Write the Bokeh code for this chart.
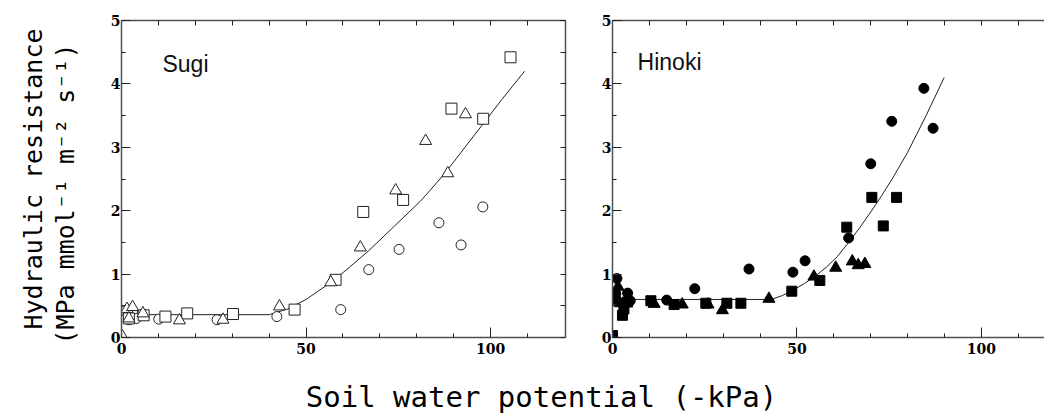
from bokeh.plotting import figure
from bokeh.models import LinearAxis, FixedTicker, Label, Range1d
from bokeh.layouts import column, row
from bokeh.embed import file_html
from bokeh.resources import INLINE

# ---- Sugi (open symbols) ----
sugi_sq_x = [105.4, 89.4, 98.0, 65.5, 76.3, 58.0, 46.9, 30.2, 17.8, 11.9, 6.0, 2.0]
sugi_sq_y = [4.42, 3.61, 3.45, 1.98, 2.17, 0.91, 0.44, 0.37, 0.38, 0.33, 0.35, 0.30]
sugi_tri_x = [93.2, 82.4, 88.4, 74.3, 64.7, 56.7, 42.8, 27.5, 15.7, 5.8, 0.2, 1.5, 3.0, 2.0]
sugi_tri_y = [3.52, 3.10, 2.59, 2.32, 1.42, 0.87, 0.49, 0.28, 0.27, 0.38, 0.02, 0.45, 0.48, 0.30]
sugi_cir_x = [97.9, 86.0, 92.0, 75.2, 67.0, 59.4, 42.1, 25.9, 10.1, 1.0, 3.0, 4.0, 2.0]
sugi_cir_y = [2.06, 1.81, 1.46, 1.39, 1.07, 0.44, 0.33, 0.28, 0.29, 0.42, 0.42, 0.30, 0.28]
sugi_fit_x = [0, 40, 45, 50, 57.5, 62, 67, 74, 81, 87.5, 92, 97.3, 103, 109.2]
sugi_fit_y = [0.36, 0.36, 0.45, 0.60, 0.90, 1.12, 1.37, 1.76, 2.15, 2.58, 2.92, 3.32, 3.75, 4.20]

# ---- Hinoki (filled symbols) ----
hin_cir_x = [84.4, 75.7, 86.9, 70.0, 64.0, 52.2, 48.9, 37.0, 22.3, 14.7, 1.2, 4.1, 0.9, 4.8]
hin_cir_y = [3.93, 3.41, 3.30, 2.74, 1.57, 1.21, 1.03, 1.08, 0.77, 0.59, 0.93, 0.70, 0.69, 0.58]
hin_sq_x = [70.3, 77.0, 63.5, 73.4, 56.2, 48.6, 34.8, 31.0, 25.3, 16.7, 10.4, 2.7, 3.1, 0.0, 4.1]
hin_sq_y = [2.21, 2.21, 1.74, 1.76, 0.90, 0.73, 0.54, 0.54, 0.54, 0.52, 0.58, 0.35, 0.45, 0.03, 0.56]
hin_tri_x = [68.4, 66.6, 65.0, 60.5, 54.6, 42.4, 29.8, 25.9, 18.9, 11.3, 1.5, 0.9, 2.1]
hin_tri_y = [1.16, 1.14, 1.20, 1.10, 0.96, 0.61, 0.43, 0.52, 0.52, 0.53, 0.80, 0.58, 0.54]
hin_fit_x = [0, 43, 46, 49, 52, 55, 58, 61, 64, 67, 70, 73, 76, 80, 85, 89.9]
hin_fit_y = [0.60, 0.60, 0.66, 0.75, 0.85, 0.97, 1.11, 1.28, 1.50, 1.73, 1.98, 2.24, 2.52, 2.92, 3.50, 4.10]

x_major = [0, 50, 100]
x_minor = [10, 20, 30, 40, 60, 70, 80, 90, 110]
x_all = [0, 10, 20, 30, 40, 50, 60, 70, 80, 90, 100, 110]
y_major = [0, 1, 2, 3, 4, 5]
y_minor = [0.5, 1.5, 2.5, 3.5, 4.5]
y_all = [0, 0.5, 1, 1.5, 2, 2.5, 3, 3.5, 4, 4.5, 5]

AX = "#505050"
TICK_FONT = "DejaVu Serif"
TITLE_FONT = "DejaVu Sans Mono"


def style_axis(ax):
    ax.axis_line_color = AX
    ax.axis_line_width = 1.5
    ax.major_tick_line_color = "#222222"
    ax.minor_tick_line_color = "#222222"
    ax.major_tick_out = 0
    ax.minor_tick_out = 0
    ax.major_label_text_font = TICK_FONT
    ax.major_label_text_font_style = "bold"
    ax.major_label_text_font_size = "14px"
    ax.major_label_text_color = "black"


def tick_only_axis(ticks, length):
    # frame edge carrying inward ticks but no labels
    ax = LinearAxis(ticker=FixedTicker(ticks=[], minor_ticks=ticks))
    style_axis(ax)
    ax.minor_tick_in = length
    return ax


def make_panel(width, border_left, border_right, x_end):
    p = figure(width=width, height=365, x_range=Range1d(0, x_end), y_range=Range1d(0, 5),
               x_axis_location=None, y_axis_location=None,
               toolbar_location=None, output_backend="svg",
               min_border_left=border_left, min_border_right=border_right,
               min_border_top=20, min_border_bottom=28)
    p.outline_line_color = None
    p.grid.grid_line_color = None
    p.background_fill_color = "white"
    p.border_fill_color = "white"

    left = LinearAxis(ticker=FixedTicker(ticks=y_major, minor_ticks=y_minor))
    style_axis(left)
    left.major_tick_in = 9
    left.minor_tick_in = 4
    left.major_label_standoff = 1
    p.add_layout(left, "left")

    below = LinearAxis(ticker=FixedTicker(ticks=x_major, minor_ticks=x_minor))
    style_axis(below)
    below.major_tick_in = 10
    below.minor_tick_in = 4
    below.major_label_standoff = 5
    p.add_layout(below, "below")

    p.add_layout(tick_only_axis(x_all, 5), "above")
    return p, left


# Sugi panel
p1, left1 = make_panel(590, 121, 25, 120.3)
left1.axis_label = "(MPa mmol\u207b\u00b9 m\u207b\u00b2 s\u207b\u00b9)\u00a0\u00a0"
left1.axis_label_text_font = TITLE_FONT
left1.axis_label_text_font_style = "normal"
left1.axis_label_text_font_size = "25px"
left1.axis_label_text_color = "black"
left1.axis_label_standoff = 28

outer = LinearAxis(ticker=FixedTicker(ticks=[]), axis_label="Hydraulic resistance")
outer.axis_line_color = None
outer.major_tick_line_color = None
outer.minor_tick_line_color = None
outer.axis_label_text_font = TITLE_FONT
outer.axis_label_text_font_style = "normal"
outer.axis_label_text_font_size = "25px"
outer.axis_label_text_color = "black"
outer.axis_label_standoff = 0
p1.add_layout(outer, "left")

p1.add_layout(tick_only_axis(y_all, 5), "right")

p1.line(sugi_fit_x, sugi_fit_y, line_color="#222222", line_width=1)
p1.scatter(sugi_cir_x, sugi_cir_y, marker="circle", size=10,
           line_color="#222222", fill_color="white", line_width=1)
p1.scatter(sugi_sq_x, sugi_sq_y, marker="square", size=11,
           line_color="#222222", fill_color="white", line_width=1)
p1.scatter(sugi_tri_x, sugi_tri_y, marker="triangle", size=12,
           line_color="#222222", fill_color="white", line_width=1)
p1.add_layout(Label(x=11.1, y=4.32, text="Sugi", text_font="Liberation Sans",
                    text_font_size="23px", text_color="#111111",
                    text_baseline="alphabetic"))

# Hinoki panel
p2, left2 = make_panel(454, 22, 0, 117.1)
p2.line(hin_fit_x, hin_fit_y, line_color="#222222", line_width=1)
p2.scatter(hin_cir_x, hin_cir_y, marker="circle", size=10,
           line_color="black", fill_color="black")
p2.scatter(hin_sq_x, hin_sq_y, marker="square", size=10,
           line_color="black", fill_color="black")
p2.scatter(hin_tri_x, hin_tri_y, marker="triangle", size=12,
           line_color="black", fill_color="black")
p2.add_layout(Label(x=6.8, y=4.34, text="Hinoki", text_font="Liberation Sans",
                    text_font_size="23px", text_color="#111111",
                    text_baseline="alphabetic"))

# shared x-axis title
p3 = figure(width=1044, height=51, x_range=Range1d(0, 1044), y_range=Range1d(0, 51),
            x_axis_location=None, y_axis_location=None, toolbar_location=None,
            output_backend="svg", min_border=0)
p3.outline_line_color = None
p3.grid.grid_line_color = None
p3.add_layout(Label(x=541, y=20, text="Soil water potential (-kPa)",
                    text_font=TITLE_FONT, text_font_size="29px", text_color="black",
                    text_align="center", text_baseline="middle"))

layout = column(row(p1, p2, spacing=0), p3, spacing=0)
open("out.html", "w").write(file_html(layout, INLINE))
